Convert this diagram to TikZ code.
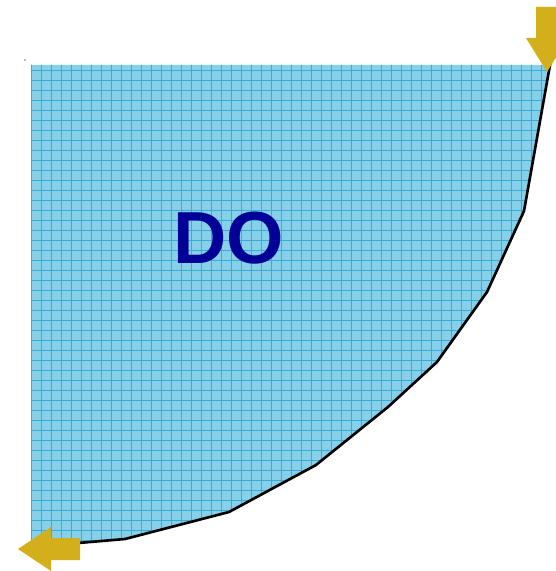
\documentclass[tikz,border=0pt]{standalone}
\usepackage{fontspec}
\setmainfont{Liberation Sans}
\usepackage{tikz}
\definecolor{areablue}{HTML}{86D0E9}
\definecolor{gridblue}{HTML}{35ACDC}
\definecolor{dotext}{HTML}{000096}
\definecolor{arrowgold}{HTML}{D4AF1C}
\tikzset{
  bigarrow/.style={fill=arrowgold, draw=none},
  edgeline/.style={line width=1.5pt, black, line join=round}
}

\begin{document}
\begin{tikzpicture}[x=0.02cm, y=-0.02cm]
			\useasboundingbox (0,0) rectangle (555,571);
			% corner points of the region
			\coordinate (tl) at (31,65);
			\coordinate (tr) at (550,65);
			\coordinate (bl) at (31,545);
			\coordinate (be) at (55,545);
			% area with grid
			\fill[areablue] (tl) -- (tr) -- (524,211) -- (487,292) -- (437,362) -- (388,407) -- (316,465) -- (229,512) -- (125,539) -- (be) -- (bl) -- cycle;
			\begin{scope}
				\clip (tl) -- (tr) -- (524,211) -- (487,292) -- (437,362) -- (388,407) -- (316,465) -- (229,512) -- (125,539) -- (be) -- (bl) -- cycle;
				\foreach \gx in {31,41,...,551} \draw[gridblue, line width=0.35pt] (\gx,60) -- (\gx,550);
				\foreach \gy in {70,80,...,550} \draw[gridblue, line width=0.35pt] (25,\gy) -- (555,\gy);
			\end{scope}
			% boundary curve
			\draw[edgeline] (560,30) -- (tr) -- (524,211) -- (487,292) -- (437,362) -- (388,407) -- (316,465) -- (229,512) -- (125,539) -- (be);
			\fill[gray] (25,60) circle (0.8);
			\node[text=dotext, font=\bfseries\fontsize{42}{42}\selectfont] (label) at (229,238) {DO};
			% arrows
			\fill[bigarrow] (536,7) -- (558,7) -- (558,38) -- (568,38) -- (547,72) -- (526,38) -- (536,38) -- cycle;
			\fill[bigarrow] (18,549) -- (51,527) -- (51,538) -- (80,538) -- (80,560) -- (51,560) -- (51,571) -- cycle;
		\end{tikzpicture}
\end{document}
